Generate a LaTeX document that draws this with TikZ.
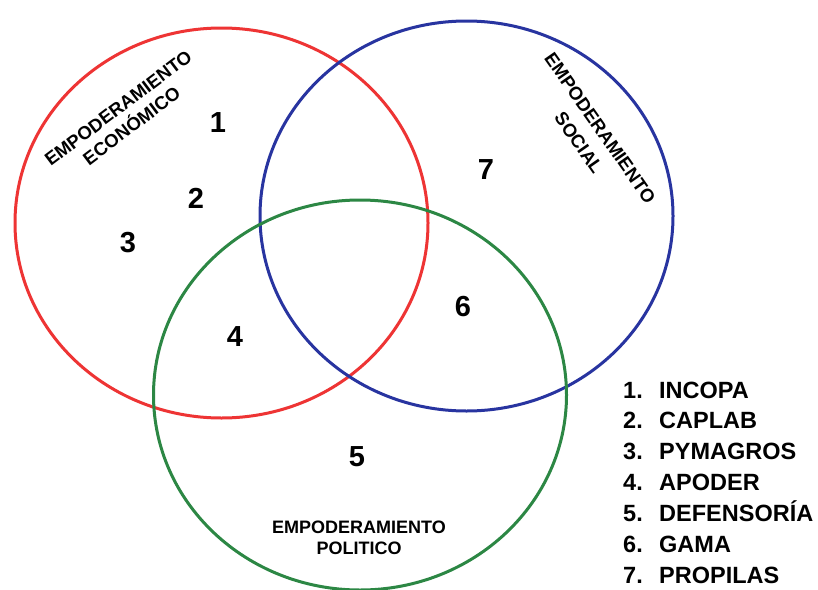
\documentclass[tikz,border=0pt]{standalone}
\usepackage{fontspec}
\setmainfont{Liberation Sans}
\usetikzlibrary{shapes.geometric}
\definecolor{cred}{RGB}{238,52,52}
\definecolor{cblue}{RGB}{40,52,160}
\definecolor{cgreen}{RGB}{44,135,68}
\tikzset{
  setring/.style={draw=#1, ellipse, line width=3pt, minimum width=413pt, minimum height=390pt, inner sep=0pt},
  num/.style={font=\fontsize{29}{29}\selectfont\bfseries, inner sep=0pt},
  setlabel/.style={font=\fontsize{18.5}{22.5}\selectfont\bfseries, align=center, inner sep=0pt},
  legnum/.style={font=\fontsize{23.5}{23.5}\selectfont\bfseries, anchor=base west, inner sep=0pt},
}
\begin{document}
\begin{tikzpicture}[x=1pt,y=-1pt]
\useasboundingbox (0,0) rectangle (818,589);
\fill[white] (0,0) rectangle (818,589);
\node[setring=cred] (eco) at (221.5,223) {};
\node[setring=cblue] (soc) at (466.5,216) {};
\node[setring=cgreen] (pol) at (360,395) {};
\node[setlabel, rotate=37] (leco) at (125,117) {EMPODERAMIENTO\\ECONÓMICO};
\node[setlabel, rotate=-55, font=\fontsize{18.5}{26}\selectfont\bfseries] (lsoc) at (589.5,135.5) {EMPODERAMIENTO\\SOCIAL};
\node[setlabel, font=\fontsize{18}{21}\selectfont\bfseries] (lpol) at (359,537.5) {EMPODERAMIENTO\\POLITICO};
\node[num] (n1) at (218,123) {1};
\node[num] (n2) at (196,198) {2};
\node[num] (n3) at (128,243) {3};
\node[num] (n4) at (235,337) {4};
\node[num] (n5) at (357,457) {5};
\node[num] (n6) at (463,307) {6};
\node[num] (n7) at (486,170) {7};
\foreach \i/\name [count=\k from 0] in {1/INCOPA,2/CAPLAB,3/PYMAGROS,4/APODER,5/DEFENSORÍA,6/GAMA,7/PROPILAS}{
  \node[legnum] (ln\i) at (623,398+30.9*\k) {\i.};
  \node[legnum] (lt\i) at (659,398+30.9*\k) {\name};
}
\end{tikzpicture}
\end{document}
